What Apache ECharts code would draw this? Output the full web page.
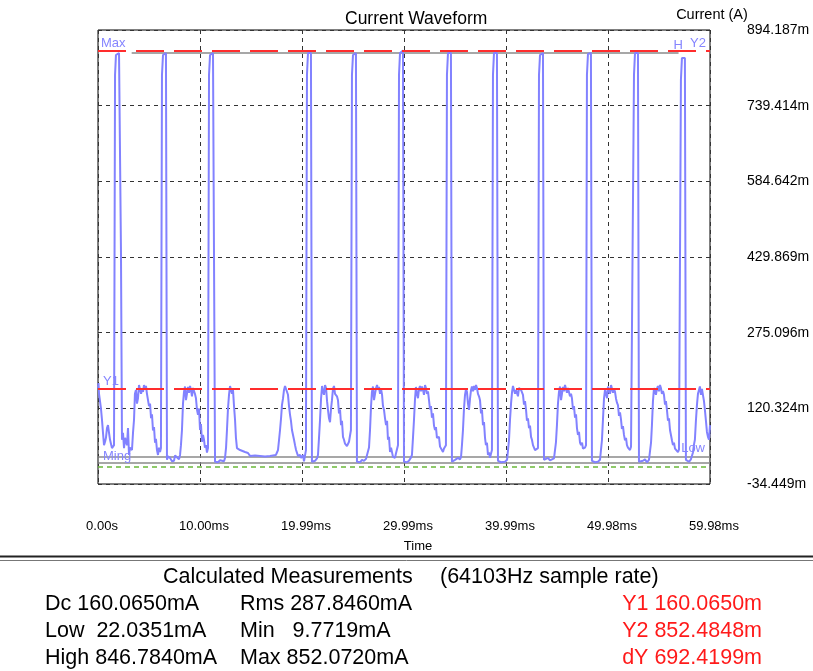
<!DOCTYPE html>
<html><head><meta charset="utf-8">
<script src="https://cdn.jsdelivr.net/npm/echarts@6/dist/echarts.min.js"></script>
<style>html,body{margin:0;padding:0;background:#fff}#c{width:813px;height:671px}</style>
</head><body><div id="c"></div>
<script>
// ---- axis definitions ----
const xMax = 59.98;                 // ms
const yMin = -34.449, yMax = 894.187; // mA
const xTickLabels = ['0.00s','10.00ms','19.99ms','29.99ms','39.99ms','49.98ms','59.98ms'];
const yTickLabels = ['-34.449m','120.324m','275.096m','429.869m','584.642m','739.414m','894.187m'];

// ---- cursor / statistic levels (mA) ----
const levelY1 = 160.065, levelY2 = 852.4848, levelHigh = 846.784;
const levelLow = 22.0351, levelMin = 9.7719, levelMax = 852.072, levelZero = 0;

// ---- waveform: [time ms, current mA] ----
const lead = [[0.00,162],[0.05,172],[0.10,150],[0.20,148],[0.29,120],[0.39,97],[0.49,70],[0.59,45],[0.69,52],[0.78,60],[0.88,80],[0.98,86],[1.08,70],[1.18,56],[1.27,48],[1.37,39],[1.47,42],[1.57,45]];
const cycle1 = [[1.67,802],[1.76,843],[2.06,847],[2.16,847],[2.25,444],[2.35,56],[2.45,70],[2.55,39],[2.65,60],[2.84,45],[2.94,80],[3.04,25],[3.14,40],[3.33,35],[3.43,70],[3.53,97],[3.62,150],[3.72,158],[3.82,130],[3.92,141],[4.02,168],[4.12,164],[4.22,150],[4.31,160],[4.41,154],[4.51,168],[4.60,160],[4.70,166],[4.80,150],[4.90,148],[5.00,125],[5.10,130],[5.20,100],[5.29,108],[5.39,75],[5.49,82],[5.59,50],[5.68,58],[5.78,35],[5.88,25],[5.98,40],[6.08,31],[6.17,39]];
const cycle2 = [[6.27,802],[6.37,843],[6.66,847],[6.76,15],[6.86,22],[7.06,19],[7.25,12],[7.45,13],[7.55,24],[7.74,21],[7.94,16],[8.04,25],[8.13,45],[8.23,76],[8.33,130],[8.43,154],[8.53,165],[8.62,137],[8.72,150],[8.82,164],[8.92,152],[9.02,166],[9.11,158],[9.21,145],[9.31,162],[9.41,166],[9.50,150],[9.60,141],[9.70,118],[9.80,107],[9.90,120],[10.00,76],[10.09,88],[10.19,52],[10.29,66],[10.39,56],[10.48,40],[10.58,45],[10.68,30],[10.78,39]];
const cycle3 = [[10.88,802],[10.98,843],[11.27,847],[11.47,11],[11.76,10],[11.96,14],[12.15,15],[12.35,12],[12.45,19],[12.55,40],[12.64,76],[12.74,120],[12.84,148],[12.94,166],[13.04,162],[13.13,150],[13.23,158],[13.33,125],[13.43,97],[13.52,60],[13.62,39],[13.72,42],[13.92,35],[14.11,38],[14.41,31],[14.70,29],[14.90,23],[15.39,24],[15.88,23],[16.37,22],[16.86,23],[17.15,24],[17.44,25],[17.54,30],[17.64,35],[17.74,55],[17.84,76],[17.94,100],[18.03,127],[18.13,140],[18.23,158],[18.33,166],[18.43,162],[18.52,168],[18.62,148],[18.72,125],[18.82,107],[18.91,95],[19.01,76],[19.11,80],[19.21,56],[19.31,45],[19.41,35],[19.50,38],[19.60,23],[19.80,25],[19.90,19],[20.09,25],[20.19,12],[20.29,15],[20.38,35]];
const cycle4 = [[20.48,802],[20.58,847],[20.87,847],[20.97,11],[21.07,14],[21.27,13],[21.46,18],[21.56,25],[21.66,60],[21.76,97],[21.86,140],[21.96,166],[22.05,155],[22.15,148],[22.25,168],[22.35,162],[22.45,135],[22.54,117],[22.64,100],[22.74,92],[22.84,120],[22.93,137],[23.03,160],[23.13,166],[23.23,150],[23.33,154],[23.42,145],[23.52,137],[23.62,110],[23.72,118],[23.82,86],[23.91,95],[24.01,62],[24.11,56],[24.21,48],[24.31,52],[24.40,43],[24.50,40],[24.60,52],[24.70,56],[24.79,76]];
const cycle5 = [[24.89,802],[24.99,843],[25.28,847],[25.38,11],[25.48,13],[25.68,10],[25.87,15],[26.07,13],[26.27,17],[26.46,19],[26.56,40],[26.66,76],[26.76,125],[26.85,154],[26.95,165],[27.05,137],[27.15,150],[27.25,162],[27.35,168],[27.44,158],[27.54,164],[27.64,150],[27.74,160],[27.84,148],[27.93,125],[28.03,117],[28.13,100],[28.23,86],[28.33,95],[28.42,56],[28.52,62],[28.62,31],[28.72,40],[28.91,21],[29.01,25],[29.11,19],[29.20,28],[29.30,25],[29.40,45]];
const cycle6 = [[29.50,802],[29.60,847],[29.89,852],[29.99,11],[30.09,15],[30.28,10],[30.48,13],[30.58,15],[30.68,20],[30.77,25],[30.87,60],[30.97,97],[31.07,140],[31.16,164],[31.26,150],[31.36,141],[31.46,160],[31.56,166],[31.65,155],[31.75,165],[31.85,158],[31.95,148],[32.05,168],[32.14,162],[32.24,150],[32.34,155],[32.44,137],[32.54,118],[32.63,125],[32.73,101],[32.83,110],[32.93,85],[33.03,76],[33.12,82],[33.22,60],[33.32,56],[33.42,62],[33.52,42],[33.61,39],[33.71,45],[33.81,31],[33.91,38],[34.01,35],[34.10,45]];
const cycle7 = [[34.20,802],[34.30,847],[34.59,847],[34.69,11],[34.79,14],[34.99,15],[35.18,12],[35.28,19],[35.48,16],[35.58,21],[35.67,45],[35.77,76],[35.87,120],[35.97,148],[36.07,160],[36.16,154],[36.26,130],[36.36,117],[36.46,140],[36.56,158],[36.65,165],[36.75,155],[36.85,166],[36.95,158],[37.05,168],[37.14,162],[37.24,150],[37.34,145],[37.44,137],[37.54,110],[37.63,118],[37.73,86],[37.83,92],[37.93,60],[38.02,45],[38.12,50],[38.22,25],[38.32,30],[38.42,19],[38.52,28],[38.61,35]];
const cycle8 = [[38.71,802],[38.81,847],[39.10,847],[39.20,13],[39.30,16],[39.50,10],[39.69,14],[39.89,11],[40.09,15],[40.18,19],[40.28,55],[40.38,97],[40.48,130],[40.58,154],[40.67,166],[40.77,162],[40.87,150],[40.97,158],[41.07,154],[41.16,145],[41.26,162],[41.36,166],[41.46,158],[41.55,160],[41.65,148],[41.75,128],[41.85,135],[41.95,117],[42.04,95],[42.14,100],[42.24,80],[42.34,85],[42.44,62],[42.53,56],[42.63,45],[42.73,48],[42.83,35],[42.93,38],[43.02,31],[43.12,39]];
const cycle9 = [[43.22,802],[43.32,843],[43.61,847],[43.71,15],[43.81,18],[44.10,19],[44.30,14],[44.49,13],[44.69,18],[44.79,21],[44.88,50],[44.98,86],[45.08,130],[45.18,154],[45.28,165],[45.38,137],[45.47,150],[45.57,164],[45.67,155],[45.77,168],[45.87,166],[45.96,152],[46.06,162],[46.16,158],[46.26,145],[46.36,150],[46.45,141],[46.55,118],[46.65,125],[46.75,101],[46.85,108],[46.94,80],[47.04,66],[47.14,72],[47.24,50],[47.34,45],[47.44,50],[47.53,38],[47.63,35],[47.73,40],[47.83,45]];
const cycle10 = [[47.92,802],[48.02,845],[48.31,847],[48.41,13],[48.51,16],[48.71,10],[48.90,14],[49.00,11],[49.20,15],[49.30,19],[49.39,55],[49.49,97],[49.59,140],[49.69,158],[49.79,150],[49.89,141],[49.98,165],[50.08,162],[50.18,150],[50.28,168],[50.37,166],[50.47,152],[50.57,160],[50.67,154],[50.77,140],[50.86,132],[50.96,127],[51.06,105],[51.16,112],[51.26,97],[51.35,78],[51.45,84],[51.55,66],[51.65,55],[51.75,60],[51.84,45],[51.94,40],[52.04,44],[52.14,35],[52.24,42],[52.33,39],[52.43,45]];
const cycle11 = [[52.53,802],[52.63,847],[52.92,847],[53.02,11],[53.12,14],[53.41,13],[53.61,16],[53.80,10],[54.00,15],[54.10,19],[54.20,50],[54.29,86],[54.39,135],[54.49,162],[54.59,155],[54.68,148],[54.78,160],[54.88,166],[54.98,155],[55.08,168],[55.17,162],[55.27,150],[55.37,156],[55.47,148],[55.57,128],[55.66,135],[55.76,117],[55.86,95],[55.96,100],[56.06,76],[56.15,80],[56.25,55],[56.35,45],[56.45,50],[56.55,38],[56.64,35],[56.74,40],[56.84,31],[56.94,36],[57.04,39]];
const cycle12 = [[57.13,792],[57.23,837],[57.52,837],[57.62,15],[57.72,18],[57.92,11],[58.11,16],[58.21,19],[58.31,30],[58.40,45],[58.50,56],[58.60,95],[58.70,127],[58.80,150],[58.90,158],[58.99,165],[59.09,148],[59.19,160],[59.29,158],[59.39,135],[59.48,117],[59.58,95],[59.68,72],[59.78,62],[59.88,56],[59.98,86]];

// ---- texts ----
const chartTitle = 'Current Waveform';
const yAxisTitle = 'Current (A)';
const xAxisTitle = 'Time';
const measHeader = ['Calculated Measurements', '(64103Hz sample rate)'];
const measCol1 = ['Dc 160.0650mA', 'Low  22.0351mA', 'High 846.7840mA'];
const measCol2 = ['Rms 287.8460mA', 'Min   9.7719mA', 'Max 852.0720mA'];
const measCol3 = ['Y1 160.0650m', 'Y2 852.4848m', 'dY 692.4199m'];

const wave = [].concat(lead, cycle1, cycle2, cycle3, cycle4, cycle5, cycle6, cycle7, cycle8, cycle9, cycle10, cycle11, cycle12);

const FONT = '"Liberation Sans", Arial, sans-serif';
const xStep = xMax / 6;
const yStep = (yMax - yMin) / 6;
const chart = echarts.init(document.getElementById('c'));

const option = {
  animation: false,
  backgroundColor: '#fff',
  grid: { left: 98, right: 103, top: 30, bottom: 187, show: true, borderColor: '#000', borderWidth: 1, backgroundColor: 'transparent' },
  xAxis: {
    type: 'value', min: 0, max: xMax, interval: xStep,
    axisLine: { show: false }, axisTick: { show: false },
    splitLine: { show: true, lineStyle: { color: '#333', type: [4, 4], width: 1 } },
    axisLabel: {
      margin: 36, fontSize: 13, color: '#000', fontFamily: FONT, showMinLabel: true, showMaxLabel: true,
      padding: [0, 0, 0, 8],
      formatter: v => { const i = Math.round(v / xStep); return xTickLabels[i] || ''; }
    },
    name: xAxisTitle, nameLocation: 'middle', nameGap: 56,
    nameTextStyle: { fontSize: 13, color: '#000', fontFamily: FONT, padding: [0, 0, 0, 28] }
  },
  yAxis: {
    type: 'value', position: 'right', min: yMin, max: yMax, interval: yStep,
    axisLine: { show: false }, axisTick: { show: false },
    splitLine: { show: true, lineStyle: { color: '#333', type: [4, 4], width: 1 } },
    axisLabel: {
      margin: 37, fontSize: 14, color: '#000', fontFamily: FONT, showMinLabel: true, showMaxLabel: true,
      formatter: v => { const i = Math.round((v - yMin) / yStep); return yTickLabels[i] || ''; }
    }
  },
  series: [
    {
      type: 'line', data: wave, showSymbol: false, symbol: 'none', z: 3,
      lineStyle: { color: '#8282ff', width: 2 }, clip: true,
      markLine: {
        silent: true, symbol: 'none', animation: false, z: 2,
        label: { show: false },
        data: [
          [{ coord: [3.3, levelHigh] }, { coord: [56.9, levelHigh] }],
          { yAxis: levelLow },
          { yAxis: levelMin }
        ],
        lineStyle: { color: '#8a8a8a', type: 'solid', width: 1.5 }
      }
    },
    {
      type: 'line', data: [], z: 4,
      markLine: {
        silent: true, symbol: 'none', animation: false, z: 4,
        label: { show: false },
        data: [
          { yAxis: levelY2, lineStyle: { color: '#ff2d2d', type: [28, 10], width: 2 } },
          { yAxis: levelY1, lineStyle: { color: '#ff2d2d', type: [28, 10], width: 2 } },
          { yAxis: levelZero, lineStyle: { color: '#6ab83a', type: [5, 4], width: 1.5 } }
        ]
      }
    }
  ]
};
chart.setOption(option);

// ---- labels placed from data coordinates ----
const px = (x, y) => chart.convertToPixel({ gridIndex: 0 }, [x, y]);
const lav = '#8585ff';
const lblFont = '13px ' + FONT;
const g = [];
function txt(text, x, y, align, vAlign, font, fill) {
  g.push({ type: 'text', x: x, y: y, z: 10, style: { text: text, textAlign: align, textVerticalAlign: vAlign, align: align, verticalAlign: vAlign, font: font, fill: fill } });
}
const pLeftMax = px(0, levelMax), pRightY2 = px(xMax, levelY2), pY1 = px(0, levelY1);
const pMinL = px(0, levelMin), pLowR = px(xMax, levelLow);
txt('Max', pLeftMax[0] + 3, pLeftMax[1] - 1, 'left', 'bottom', lblFont, lav);
txt('Y2', pRightY2[0] - 4, pRightY2[1] - 0, 'right', 'bottom', lblFont, lav);
txt('H', pRightY2[0] - 27, pRightY2[1] + 2, 'right', 'bottom', lblFont, lav);
txt('Y1', pY1[0] + 5, pY1[1] - 1, 'left', 'bottom', lblFont, lav);
txt('Ming', pMinL[0] + 5, pMinL[1] + 1, 'left', 'bottom', lblFont, lav);
txt('Low', pLowR[0] - 5, pLowR[1] - 1, 'right', 'bottom', lblFont, lav);

// titles
txt(chartTitle, 345, 19, 'left', 'middle', '17.5px ' + FONT, '#000');
txt(yAxisTitle, 712, 15, 'center', 'middle', '14.5px ' + FONT, '#000');

// separator double line
g.push({ type: 'line', z: 10, shape: { x1: 0, y1: 556.5, x2: 813, y2: 556.5 }, style: { stroke: '#222', lineWidth: 2 } });
g.push({ type: 'line', z: 10, shape: { x1: 0, y1: 560.5, x2: 813, y2: 560.5 }, style: { stroke: '#777', lineWidth: 1 } });

// measurements
const mFont = '21.5px ' + FONT;
txt(measHeader[0], 163, 577, 'left', 'middle', '21.5px ' + FONT, '#000');
txt(measHeader[1], 440, 577, 'left', 'middle', '21.5px ' + FONT, '#000');
const rowY = [604, 631, 658];
for (let i = 0; i < 3; i++) {
  txt(measCol1[i], 45, rowY[i], 'left', 'middle', mFont, '#000');
  txt(measCol2[i], 240, rowY[i], 'left', 'middle', mFont, '#000');
  txt(measCol3[i], 762, rowY[i], 'right', 'middle', mFont, '#ff1a1a');
}
chart.setOption({ graphic: g });
</script>
</body></html>
